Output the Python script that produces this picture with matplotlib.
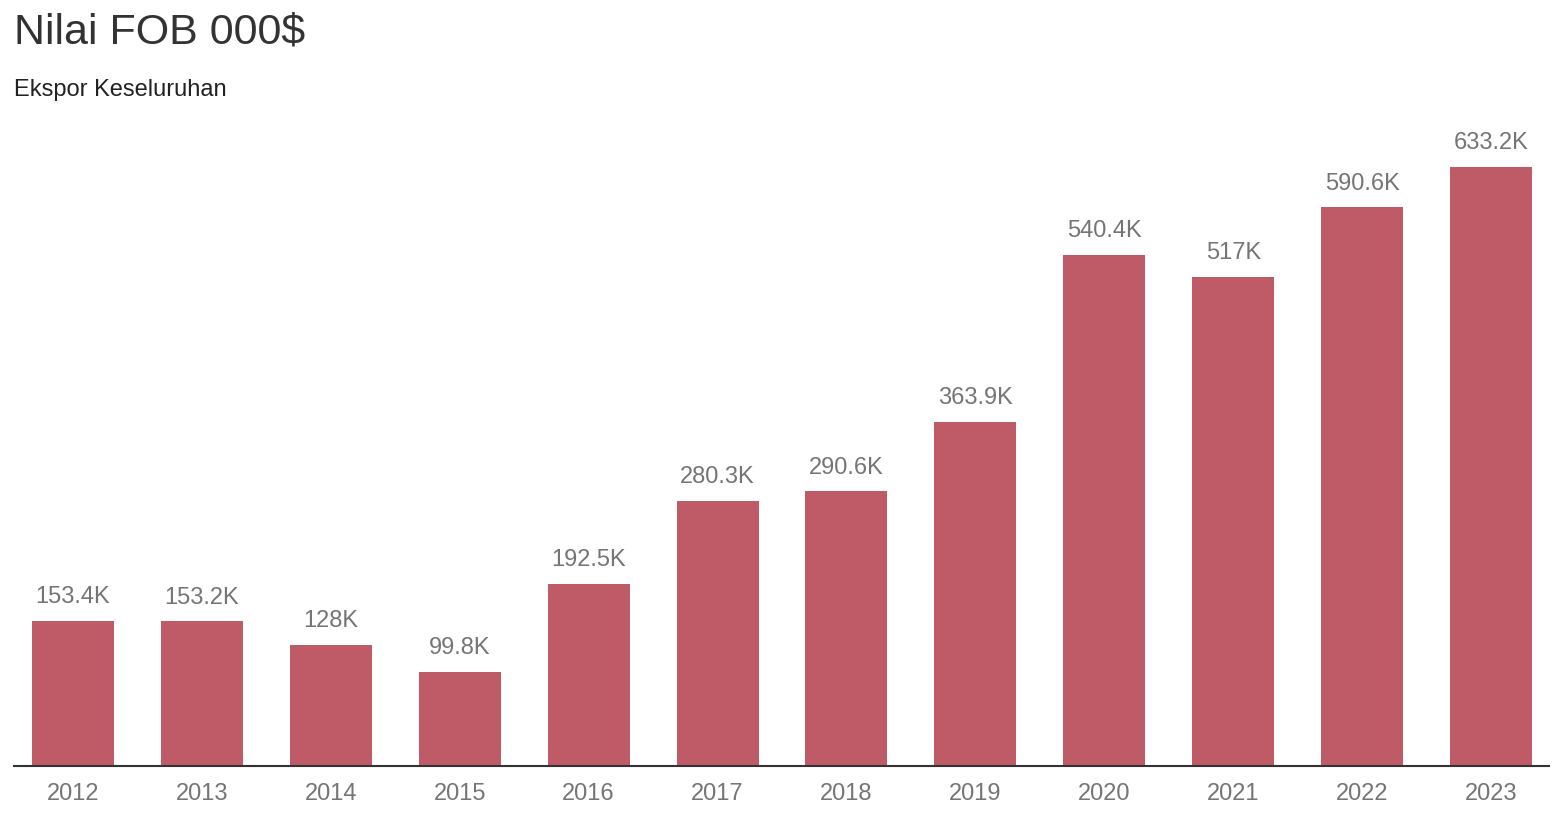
import matplotlib.pyplot as plt
import numpy as np

plt.rcParams['font.family'] = ['Liberation Sans', 'DejaVu Sans']

years = ['2012', '2013', '2014', '2015', '2016', '2017',
         '2018', '2019', '2020', '2021', '2022', '2023']
values = [153.4, 153.2, 128, 99.8, 192.5, 280.3,
          290.6, 363.9, 540.4, 517, 590.6, 633.2]
labels = ['153.4K', '153.2K', '128K', '99.8K', '192.5K', '280.3K',
          '290.6K', '363.9K', '540.4K', '517K', '590.6K', '633.2K']

W, H = 1559, 818
fig = plt.figure(figsize=(W / 100, H / 100), dpi=100)
ax = fig.add_axes([14 / W, (H - 766) / H, 1535 / W, (766 - 130) / H])

x = np.arange(len(years))
ax.bar(x, values, width=0.636, color='#bf5a67')
for xi, v, lab in zip(x, values, labels):
    ax.annotate(lab, (xi, v), xytext=(0, 9), textcoords='offset points',
                ha='center', va='bottom', fontsize=17, color='#757575')

ax.set_xlim(-0.458, 11.45)
ax.set_ylim(0, (766 - 130) / 0.946)
ax.set_xticks(x)
ax.set_xticklabels(years, fontsize=17, color='#757575')
ax.tick_params(axis='x', length=0, pad=12)
ax.set_yticks([])
for s in ['top', 'right', 'left']:
    ax.spines[s].set_visible(False)
ax.spines['bottom'].set_color('#333333')
ax.spines['bottom'].set_linewidth(1.5)

fig.text(14 / W, 1 - 12 / H, 'Nilai FOB 000$', fontsize=31, color='#333333',
         ha='left', va='top')
fig.text(14 / W, 1 - 79 / H, 'Ekspor Keseluruhan', fontsize=17, color='#222222',
         ha='left', va='top')

fig.savefig('out.png', dpi=100)
